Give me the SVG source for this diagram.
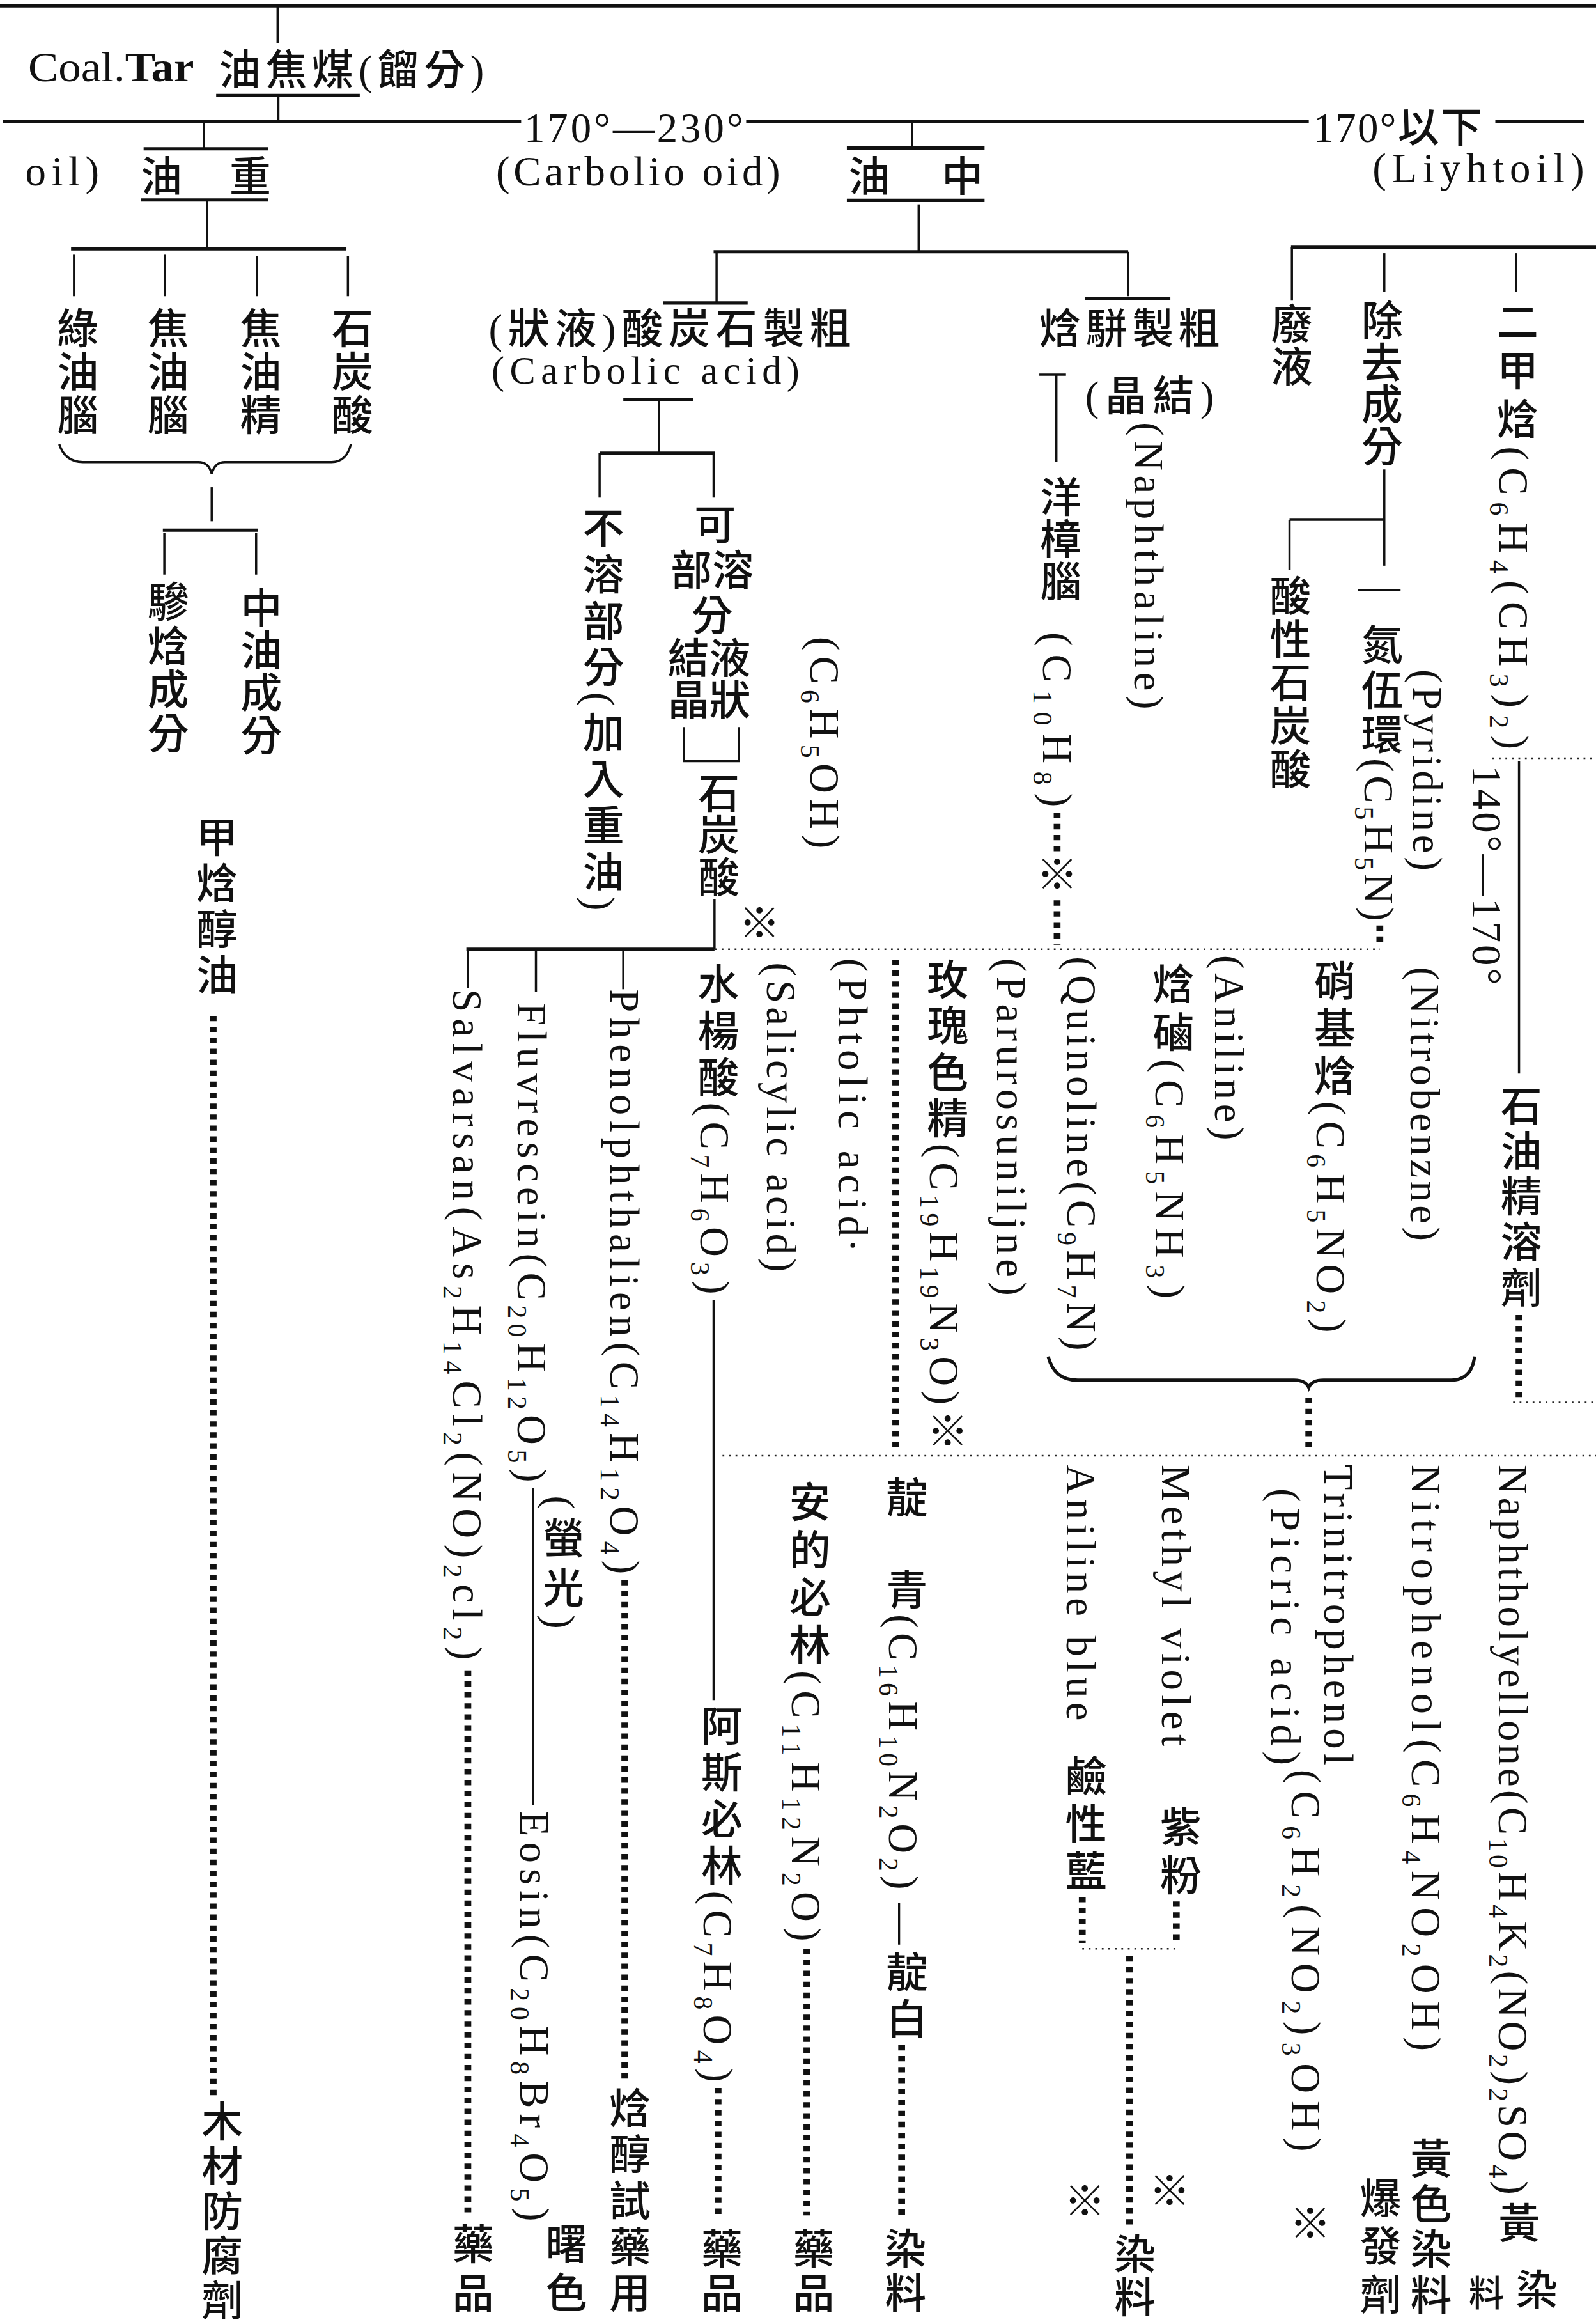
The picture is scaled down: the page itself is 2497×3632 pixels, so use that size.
<svg xmlns="http://www.w3.org/2000/svg" width="2497" height="3632" viewBox="0 0 2497 3632">
<style>
text{font-family:"Liberation Serif","Noto Sans CJK TC","Noto Sans CJK JP",serif;font-size:28px;font-weight:500;fill:#111}
.v{writing-mode:vertical-rl}
.s{font-size:18px;baseline-shift:sub}
.m{text-anchor:middle;dominant-baseline:central}
.ln{stroke:#111;stroke-width:1.5;fill:none}
.hv{stroke-width:2.2}
.td{stroke:#222;stroke-width:1.1;stroke-dasharray:1.2 3.2;fill:none}
</style>
<rect width="2497" height="3632" fill="#fff"/>
<g transform="scale(2.31633)">
<g id="connectors">
<line class="ln hv" x1="0" y1="4" x2="1078" y2="4"/>
<line class="ln" x1="187.5" y1="4" x2="187.5" y2="29"/>
<line class="ln hv" x1="146" y1="64.5" x2="243" y2="64.5"/>
<line class="ln" x1="188" y1="64.5" x2="188" y2="82"/>
<line class="ln hv" x1="2" y1="82" x2="352" y2="82"/>
<line class="ln hv" x1="504" y1="82" x2="884" y2="82"/>
<line class="ln hv" x1="1010" y1="82" x2="1070" y2="82"/>
<line class="ln" x1="137.6" y1="82" x2="137.6" y2="100.5"/>
<line class="ln hv" x1="97" y1="100.5" x2="181" y2="100.5"/>
<line class="ln hv" x1="95" y1="135" x2="181" y2="135"/>
<line class="ln" x1="140" y1="135" x2="140" y2="168"/>
<line class="ln hv" x1="48" y1="168" x2="234" y2="168"/>
<line class="ln" x1="50" y1="172" x2="50" y2="200"/>
<line class="ln" x1="111.5" y1="172" x2="111.5" y2="200"/>
<line class="ln" x1="173.5" y1="173" x2="173.5" y2="200"/>
<line class="ln" x1="235" y1="173" x2="235" y2="200"/>
<path class="ln" d="M40,300 Q44,312 56,312 L134,312 Q141,312 143,320 Q145,312 152,312 L224,312 Q234,312 237,300"/>
<line class="ln" x1="143" y1="329" x2="143" y2="352"/>
<line class="ln hv" x1="110" y1="358" x2="174" y2="358"/>
<line class="ln" x1="111" y1="360" x2="111" y2="388"/>
<line class="ln" x1="173" y1="360" x2="173" y2="388"/>
<line class="ln" x1="616" y1="82" x2="616" y2="100"/>
<line class="ln hv" x1="572" y1="100" x2="665" y2="100"/>
<line class="ln hv" x1="572" y1="135.3" x2="665" y2="135.3"/>
<line class="ln" x1="620.5" y1="138" x2="620.5" y2="170"/>
<line class="ln hv" x1="482" y1="170" x2="762" y2="170"/>
<line class="ln" x1="484" y1="170" x2="484" y2="204.6"/>
<line class="ln hv" x1="448" y1="204.6" x2="505" y2="204.6"/>
<line class="ln" x1="762" y1="170" x2="762" y2="200"/>
<line class="ln hv" x1="733" y1="201.6" x2="790.5" y2="201.6"/>
<line class="ln hv" x1="421" y1="270" x2="468" y2="270"/>
<line class="ln" x1="445" y1="270" x2="445" y2="306"/>
<line class="ln hv" x1="405" y1="306" x2="483" y2="306"/>
<line class="ln" x1="405" y1="306" x2="405" y2="336"/>
<line class="ln" x1="482" y1="306" x2="482" y2="336"/>
<polyline class="ln" points="462,491 462,514 499,514 499,491"/>
<line class="ln" x1="482.6" y1="607" x2="482.6" y2="641"/>
<line class="ln hv" x1="315" y1="641" x2="482.6" y2="641"/>
<line class="ln" x1="316" y1="641" x2="316" y2="667"/>
<line class="ln" x1="362" y1="641" x2="362" y2="670"/>
<line class="ln" x1="421" y1="641" x2="421" y2="668"/>
<line class="ln" x1="482" y1="878" x2="482" y2="1148"/>
<line class="ln" x1="360" y1="1005" x2="360" y2="1219"/>
<line class="ln" x1="702" y1="253" x2="720" y2="253"/>
<line class="ln" x1="713.5" y1="253" x2="713.5" y2="312"/>
<line class="ln hv" x1="872" y1="167" x2="1078" y2="167"/>
<line class="ln" x1="872.6" y1="167" x2="872.6" y2="203"/>
<line class="ln" x1="935" y1="171" x2="935" y2="197"/>
<line class="ln" x1="1024" y1="171" x2="1024" y2="197"/>
<line class="ln" x1="935" y1="317" x2="935" y2="382"/>
<line class="ln" x1="871" y1="351" x2="935" y2="351"/>
<line class="ln" x1="871" y1="351" x2="871" y2="385"/>
<line class="ln" x1="917" y1="398.5" x2="946" y2="398.5"/>
<line class="ln" x1="1026" y1="514" x2="1026" y2="725"/>
<path class="ln hv" d="M708,916 Q712,932 728,932 L874,932 Q882,932 884,937 Q886,932 894,932 L980,932 Q994,932 996,916"/>
<g stroke="#111" stroke-width="4.6" stroke-dasharray="3.6 3.8" fill="none">
<line x1="144" y1="686" x2="144" y2="1416"/>
<line x1="316" y1="1128" x2="316" y2="1494"/>
<line x1="422" y1="1067" x2="422" y2="1406"/>
<line x1="485" y1="1410" x2="485" y2="1496"/>
<line x1="545" y1="1316" x2="545" y2="1496"/>
<line x1="609" y1="1381" x2="609" y2="1496"/>
<line x1="731" y1="1281" x2="731" y2="1312"/>
<line x1="794.5" y1="1284" x2="794.5" y2="1312"/>
<line x1="763" y1="1321" x2="763" y2="1504"/>
<line x1="714" y1="549" x2="714" y2="575"/>
<line x1="714" y1="608" x2="714" y2="638"/>
<line x1="932" y1="625" x2="932" y2="638"/>
<line x1="605" y1="648" x2="605" y2="980"/>
<line x1="884" y1="944" x2="884" y2="977"/>
<line x1="1026" y1="888" x2="1026" y2="944"/>
</g>
<line class="td" x1="483" y1="641" x2="932" y2="641"/>
<line class="td" x1="488" y1="983" x2="1078" y2="983"/>
<line class="td" x1="1022" y1="947" x2="1078" y2="947"/>
<line class="td" x1="1008" y1="512" x2="1078" y2="512"/>
<line class="td" x1="731" y1="1316" x2="797" y2="1316"/>
<circle cx="576" cy="841" r="1.6" fill="#111"/>
</g>
<g id="n-coaltar"><text x="19" y="55" textLength="112" lengthAdjust="spacingAndGlyphs">Coal.<tspan font-weight="bold">Tar</tspan></text><text x="148" y="57" textLength="179">油焦煤(餾分)</text></g>
<g id="n-range-middle"><text x="354" y="96" textLength="148">170°—230°</text></g>
<g id="n-range-light"><text x="887" y="96" textLength="114">170°以下</text></g>
<g id="n-heavyoil"><text x="17" y="125" textLength="50">oil)</text><text x="95" y="129" textLength="88">油　重</text></g>
<g id="n-carbolio"><text x="335" y="125" textLength="192">(Carbolio oid)</text></g>
<g id="n-middleoil"><text x="573" y="129" textLength="91">油　中</text></g>
<g id="n-lightoil"><text x="927" y="123" textLength="143">(Liyhtoil)</text></g>
<g id="n-green"><text class="v" x="50" y="207" textLength="87">綠油腦</text></g>
<g id="n-tarcamphor"><text class="v" x="111" y="207" textLength="87">焦油腦</text></g>
<g id="n-taressence"><text class="v" x="173.5" y="207" textLength="87">焦油精</text></g>
<g id="n-carbolic1"><text class="v" x="235.5" y="207" textLength="87">石炭酸</text></g>
<g id="n-naphcomp"><text class="v" x="111" y="392" textLength="117">驂焓成分</text></g>
<g id="n-midcomp"><text class="v" x="174" y="396" textLength="114">中油成分</text></g>
<g id="n-cresol"><text class="v" x="144" y="551" textLength="121">甲焓醇油</text></g>
<g id="n-wood"><text class="v" x="147.5" y="1418" textLength="149">木材防腐劑</text></g>
<g id="n-crudecarbolic"><text x="330" y="232" textLength="245">(狀液)酸炭石製粗</text><text x="332" y="259" textLength="208" style="font-size:26px">(Carbolic acid)</text></g>
<g id="n-insoluble"><text class="v" x="405" y="342" textLength="273">不溶部分(加入重油)</text></g>
<g id="n-soluble"><text class="m" x="483" y="355">可</text><text class="m" x="481" y="385.5">部溶</text><text class="m" x="481" y="416">分</text><text class="m" x="479" y="445">結液</text><text class="m" x="479" y="473">晶狀</text><text class="v" x="483" y="521" textLength="85">石炭酸</text></g>
<g id="n-phenolformula"><text class="v" x="557" y="430" textLength="143">(C<tspan class="s">6</tspan>H<tspan class="s">5</tspan>OH)</text></g>
<g id="n-mark1"><text class="m" x="513" y="624">※</text></g>
<g id="n-crudenaph"><text x="702" y="232" textLength="122">焓駢製粗</text><text x="733" y="277" textLength="87">(晶結)</text></g>
<g id="n-camphor"><text class="v" x="714" y="321" textLength="85">洋樟腦</text><text class="v" x="714" y="427" textLength="118">(C<tspan class="s">10</tspan>H<tspan class="s">8</tspan>)</text><text class="m" x="714" y="591">※</text></g>
<g id="n-naphthaline"><text class="v" x="776" y="285" textLength="194">(Naphthaline)</text></g>
<g id="n-waste"><text class="v" x="870" y="204" textLength="57">廢液</text></g>
<g id="n-removed"><text class="v" x="931" y="202" textLength="113">除去成分</text></g>
<g id="n-acidic"><text class="v" x="869" y="388" textLength="145">酸性石炭酸</text></g>
<g id="n-pyridine"><text class="v" x="931" y="421" textLength="201">氮伍環(C<tspan class="s">5</tspan>H<tspan class="s">5</tspan>N)</text><text class="v" x="964" y="452" textLength="136">(Pyridine)</text></g>
<g id="n-xylene"><text class="v" x="1022.5" y="203" textLength="303">二甲焓(C<tspan class="s">6</tspan>H<tspan class="s">4</tspan>(CH<tspan class="s">3</tspan>)<tspan class="s">2</tspan>)</text></g>
<g id="n-range-xylene"><text class="v" x="1004" y="517" textLength="148">140°—170°</text></g>
<g id="n-solvent"><text class="v" x="1025" y="732" textLength="151">石油精溶劑</text></g>
<g id="n-nitrobenzene"><text class="v" x="899" y="648" textLength="252">硝基焓(C<tspan class="s">6</tspan>H<tspan class="s">5</tspan>NO<tspan class="s">2</tspan>)</text><text class="v" x="962.5" y="653" textLength="185">(Nitrobenzne)</text></g>
<g id="n-aniline"><text class="v" x="790" y="650" textLength="227">焓磠(C<tspan class="s">6</tspan>H<tspan class="s">5</tspan>NH<tspan class="s">3</tspan>)</text><text class="v" x="830" y="645" textLength="125">(Aniline)</text></g>
<g id="n-quinoline"><text class="v" x="730.5" y="646" textLength="266">(Quinoline(C<tspan class="s">9</tspan>H<tspan class="s">7</tspan>N)</text></g>
<g id="n-pararosaniline"><text class="v" x="683" y="647" textLength="228">(Parurosuniljne)</text></g>
<g id="n-rosaniline"><text class="v" x="637.5" y="647" textLength="333">玫瑰色精(C<tspan class="s">19</tspan>H<tspan class="s">19</tspan>N<tspan class="s">3</tspan>O)※</text></g>
<g id="n-phtolic"><text class="v" x="576" y="647" textLength="188">(Phtolic acid</text></g>
<g id="n-salicylic-en"><text class="v" x="527.7" y="650" textLength="209">(Salicylic acid)</text></g>
<g id="n-salicylic"><text class="v" x="482.6" y="650" textLength="224">水楊酸(C<tspan class="s">7</tspan>H<tspan class="s">6</tspan>O<tspan class="s">3</tspan>)</text></g>
<g id="n-phenolphthalein"><text class="v" x="421.9" y="668" textLength="395">Phenolphthalien(C<tspan class="s">14</tspan>H<tspan class="s">12</tspan>O<tspan class="s">4</tspan>)</text></g>
<g id="n-fluorescein"><text class="v" x="359.4" y="677" textLength="324">Fluvrescein(C<tspan class="s">20</tspan>H<tspan class="s">12</tspan>O<tspan class="s">5</tspan>)</text><text class="v" x="378" y="1010" textLength="90">(螢光)</text></g>
<g id="n-salvarsan"><text class="v" x="315.8" y="668" textLength="453">Salvarsan(As<tspan class="s">2</tspan>H<tspan class="s">14</tspan>Cl<tspan class="s">2</tspan>(NO)<tspan class="s">2</tspan>cl<tspan class="s">2</tspan>)</text></g>
<g id="n-eosin"><text class="v" x="361" y="1223" textLength="277">Eosin(C<tspan class="s">20</tspan>H<tspan class="s">8</tspan>Br<tspan class="s">4</tspan>O<tspan class="s">5</tspan>)</text><text class="v" x="380" y="1501" textLength="61">曙色</text></g>
<g id="n-reagent"><text class="v" x="423" y="1409" textLength="153">焓醇試藥用</text></g>
<g id="n-aspirin"><text class="v" x="485" y="1151" textLength="255">阿斯必林(C<tspan class="s">7</tspan>H<tspan class="s">8</tspan>O<tspan class="s">4</tspan>)</text><text class="v" x="485" y="1504" textLength="58">藥品</text></g>
<g id="n-salvarsan-use"><text class="v" x="317" y="1501" textLength="61">藥品</text></g>
<g id="n-antipyrine"><text class="v" x="544.5" y="1000" textLength="311">安的必林(C<tspan class="s">11</tspan>H<tspan class="s">12</tspan>N<tspan class="s">2</tspan>O)</text><text class="v" x="547" y="1504" textLength="58">藥品</text></g>
<g id="n-indigo"><text class="v" x="610" y="997" textLength="279">靛　青(C<tspan class="s">16</tspan>H<tspan class="s">10</tspan>N<tspan class="s">2</tspan>O<tspan class="s">2</tspan>)</text><text class="v" x="610" y="1285" textLength="92">—靛白</text><text class="v" x="609" y="1504" textLength="58">染料</text></g>
<g id="n-anilineblue"><text class="v" x="730" y="989" textLength="173">Aniline blue</text><text class="v" x="731" y="1185" textLength="92">鹼性藍</text><text class="m" x="732.7" y="1487">※</text></g>
<g id="n-methylviolet"><text class="v" x="794.5" y="989" textLength="190">Methyl violet</text><text class="v" x="795" y="1219" textLength="61">紫粉</text><text class="m" x="790" y="1480">※</text></g>
<g id="n-dye"><text class="v" x="764" y="1508" textLength="57">染料</text></g>
<g id="n-picric"><text class="v" x="904" y="989" textLength="203">Trinitrophenol</text><text class="v" x="868" y="1005" textLength="187">(Picric acid)</text><text class="v" x="882" y="1195" textLength="258">(C<tspan class="s">6</tspan>H<tspan class="s">2</tspan>(NO<tspan class="s">2</tspan>)<tspan class="s">3</tspan>OH)</text><text class="m" x="885" y="1502">※</text></g>
<g id="n-nitrophenol"><text class="v" x="963" y="989" textLength="396">Nitrophenol(C<tspan class="s">6</tspan>H<tspan class="s">4</tspan>NO<tspan class="s">2</tspan>OH)</text><text class="v" x="964" y="1443" textLength="120">黃色染料</text><text class="v" x="930" y="1470" textLength="93">爆發劑</text></g>
<g id="n-naphtholyellow"><text class="v" x="1022" y="989" textLength="493">Naphtholyellone(C<tspan class="s">10</tspan>H<tspan class="s">4</tspan>K<tspan class="s">2</tspan>(NO<tspan class="s">2</tspan>)<tspan class="s">2</tspan>SO<tspan class="s">4</tspan>)</text><text class="m" x="1026" y="1502">黃</text><text class="m" x="1038" y="1547">染</text><text class="m" x="1004" y="1549" style="font-size:24px">料</text></g>
</g>
</svg>
